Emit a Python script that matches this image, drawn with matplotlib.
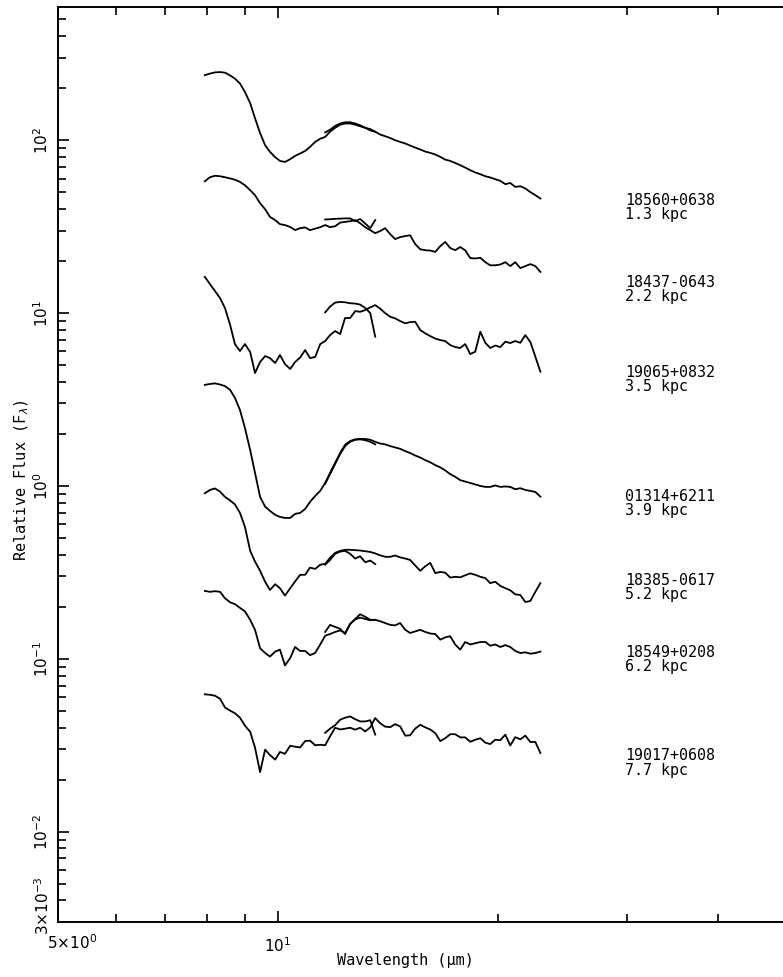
#!/usr/bin/env python3
"""IRAS LRS spectra of the sample, offset vertically and ordered by distance."""

import matplotlib

matplotlib.use("Agg")
import matplotlib.pyplot as plt
from matplotlib.ticker import FixedFormatter, FixedLocator, NullFormatter

# LRS channel wavelengths (um) for the merged spectra
wavelength = [
    7.94, 8.07, 8.20, 8.33, 8.46, 8.60, 8.73, 8.87, 9.01, 9.16, 9.30, 9.45,
    9.60, 9.75, 9.91, 10.06, 10.22, 10.39, 10.55, 10.72, 10.89, 11.06, 11.24, 11.42,
    11.60, 11.78, 11.97, 12.16, 12.35, 12.55, 12.75, 12.95, 13.16, 13.37, 13.58, 13.79,
    14.01, 14.24, 14.46, 14.69, 14.93, 15.16, 15.40, 15.65, 15.90, 16.15, 16.41, 16.67,
    16.93, 17.20, 17.47, 17.75, 18.03, 18.32, 18.61, 18.91, 19.21, 19.51, 19.82, 20.14,
    20.46, 20.78, 21.11, 21.45, 21.79, 22.14, 22.49, 22.85,
]
# blue/red band overlap region, plotted as a separate short trace
overlap_wavelength = [11.60, 11.78, 11.97, 12.16, 12.35, 12.55, 12.75, 12.95, 13.16, 13.37, 13.58]

source_names = ["18560+0638", "18437-0643", "19065+0832", "01314+6211",
                "18385-0617", "18549+0208", "19017+0608"]
distances_kpc = [1.3, 2.2, 3.5, 3.9, 5.2, 6.2, 7.7]

flux_18560 = [
    238, 243, 247, 248, 246, 237, 227, 213, 190, 164, 134, 110,
    93.6, 85.6, 79.8, 75.9, 74.9, 77.7, 81.2, 83.8, 86.7, 91.5, 97.8, 102,
    104.5, 112, 118, 123, 125, 125, 123, 120.5, 118, 114, 112, 108,
    105.5, 103, 100, 97.8, 95.7, 93.2, 90.7, 88.4, 86.0, 84.5, 82.7, 80.1,
    77.3, 75.9, 73.9, 71.7, 69.5, 67.1, 65.1, 63.6, 61.9, 60.9, 59.5, 58.2,
    55.7, 56.6, 53.7, 54.2, 52.6, 50.1, 48.1, 46.0,
]
flux_18437 = [
    57.9, 61.1, 62.3, 61.9, 61.1, 60.1, 59.1, 57.4, 54.9, 51.4, 48.1, 43.2,
    39.9, 36.0, 34.5, 32.7, 32.3, 31.5, 30.2, 31.0, 31.3, 30.2, 30.8, 31.4,
    32.3, 31.4, 31.8, 33.4, 33.7, 34.0, 34.5, 33.1, 31.4, 30.2, 29.0, 29.8,
    31.0, 28.6, 26.8, 27.5, 27.9, 28.2, 25.1, 23.4, 23.1, 23.0, 22.6, 24.4,
    25.8, 23.8, 23.1, 24.1, 23.1, 20.8, 20.7, 20.9, 19.7, 18.9, 18.9, 19.1,
    19.7, 18.7, 19.7, 18.2, 18.7, 19.2, 18.7, 17.3,
]
flux_19065 = [
    16.2, 14.7, 13.4, 12.2, 10.7, 8.52, 6.62, 6.03, 6.62, 5.95, 4.5, 5.21,
    5.64, 5.49, 5.14, 5.72, 5.07, 4.75, 5.21, 5.53, 6.11, 5.49, 5.57, 6.62,
    6.89, 7.46, 7.87, 7.56, 9.36, 9.36, 10.27, 10.17, 10.41, 10.79, 11.12, 10.62,
    10.0, 9.52, 9.32, 8.99, 8.72, 8.87, 8.91, 7.98, 7.63, 7.36, 7.12, 6.98,
    6.89, 6.53, 6.36, 6.28, 6.62, 5.79, 5.98, 7.80, 6.73, 6.28, 6.49, 6.36,
    6.83, 6.71, 6.89, 6.73, 7.46, 6.80, 5.59, 4.58,
]
flux_01314 = [
    3.84, 3.89, 3.92, 3.86, 3.78, 3.59, 3.23, 2.75, 2.16, 1.61, 1.19, 0.864,
    0.759, 0.717, 0.680, 0.662, 0.653, 0.653, 0.689, 0.698, 0.736, 0.808, 0.875, 0.936,
    1.04, 1.19, 1.36, 1.55, 1.73, 1.82, 1.86, 1.87, 1.87, 1.85, 1.80, 1.76,
    1.74, 1.70, 1.67, 1.64, 1.59, 1.55, 1.50, 1.46, 1.41, 1.37, 1.32, 1.28,
    1.23, 1.17, 1.13, 1.08, 1.06, 1.04, 1.02, 1.00, 0.987, 0.987, 1.007, 0.987,
    0.993, 0.987, 0.957, 0.970, 0.948, 0.936, 0.923, 0.867,
]
flux_18385 = [
    0.907, 0.948, 0.967, 0.927, 0.864, 0.824, 0.782, 0.698, 0.579, 0.421, 0.365, 0.323,
    0.279, 0.250, 0.270, 0.256, 0.232, 0.256, 0.280, 0.306, 0.306, 0.337, 0.331, 0.350,
    0.354, 0.384, 0.410, 0.421, 0.427, 0.427, 0.425, 0.423, 0.419, 0.415, 0.407, 0.397,
    0.389, 0.389, 0.396, 0.386, 0.380, 0.373, 0.347, 0.323, 0.343, 0.359, 0.313, 0.318,
    0.315, 0.295, 0.298, 0.296, 0.304, 0.312, 0.306, 0.298, 0.293, 0.274, 0.279, 0.264,
    0.256, 0.249, 0.236, 0.234, 0.213, 0.216, 0.244, 0.274,
]
flux_18549 = [
    0.247, 0.244, 0.246, 0.244, 0.224, 0.212, 0.207, 0.197, 0.188, 0.168, 0.147, 0.115,
    0.108, 0.103, 0.110, 0.113, 0.0915, 0.101, 0.117, 0.111, 0.111, 0.105, 0.108, 0.121,
    0.136, 0.139, 0.143, 0.146, 0.141, 0.159, 0.170, 0.181, 0.175, 0.168, 0.168, 0.165,
    0.161, 0.157, 0.156, 0.161, 0.147, 0.141, 0.144, 0.147, 0.143, 0.140, 0.139, 0.129,
    0.133, 0.135, 0.121, 0.113, 0.125, 0.121, 0.123, 0.125, 0.125, 0.119, 0.121, 0.117,
    0.120, 0.117, 0.111, 0.108, 0.109, 0.107, 0.108, 0.110,
]
flux_19017 = [
    0.0623, 0.0619, 0.0611, 0.0587, 0.0523, 0.0501, 0.0484, 0.0456, 0.0410, 0.0378, 0.0306, 0.0221,
    0.0298, 0.0277, 0.0261, 0.0289, 0.0282, 0.0314, 0.0310, 0.0307, 0.0334, 0.0336, 0.0316, 0.0318,
    0.0316, 0.0356, 0.0399, 0.0390, 0.0394, 0.0399, 0.0389, 0.0399, 0.0380, 0.0401, 0.0454, 0.0424,
    0.0405, 0.0402, 0.0419, 0.0406, 0.0359, 0.0361, 0.0394, 0.0415, 0.0401, 0.0390, 0.0371, 0.0334,
    0.0347, 0.0366, 0.0366, 0.0351, 0.0351, 0.0331, 0.0340, 0.0347, 0.0327, 0.0321, 0.0340, 0.0338,
    0.0364, 0.0315, 0.0352, 0.0342, 0.0359, 0.0330, 0.0330, 0.0285,
]

overlap_18560 = [111, 115, 121, 125, 127, 127, 125, 122, 118, 116, 112]
overlap_18437 = [34.8, 34.9, 35.1, 35.2, 35.3, 35.3, 34.0, 35.0, 33.0, 31.0, 34.5]
overlap_19065 = [10.1, 10.9, 11.5, 11.6, 11.55, 11.4, 11.35, 11.2, 10.7, 10.0, 7.3]
overlap_01314 = [1.03, 1.17, 1.34, 1.53, 1.70, 1.80, 1.85, 1.86, 1.84, 1.80, 1.74]
overlap_18385 = [0.350, 0.373, 0.405, 0.417, 0.421, 0.405, 0.380, 0.392, 0.362, 0.370, 0.353]
overlap_18549 = [0.143, 0.157, 0.153, 0.149, 0.139, 0.159, 0.169, 0.173, 0.170, 0.167, 0.168]
overlap_19017 = [0.0373, 0.0394, 0.0413, 0.0444, 0.0456, 0.0464, 0.0447, 0.0434, 0.0434, 0.0441, 0.0364]

spectra = [flux_18560, flux_18437, flux_19065, flux_01314, flux_18385, flux_18549, flux_19017]
overlaps = [overlap_18560, overlap_18437, overlap_19065, overlap_01314,
            overlap_18385, overlap_18549, overlap_19017]

# where each name/distance block sits (wavelength, flux at block centre)
label_wavelength = 29.8
label_flux = [40.7, 13.7, 4.13, 0.792, 0.259, 0.0993, 0.0249]


def main() -> None:
    plt.rcParams["font.family"] = "DejaVu Sans Mono"
    plt.rcParams["mathtext.fontset"] = "dejavusans"

    W, H = 783, 977
    fig = plt.figure(figsize=(W / 100, H / 100), dpi=100)
    # right edge (50 um) falls just outside the saved frame
    ax = fig.add_axes([58 / W, 1 - 922 / H, (789 - 58) / W, (922 - 7) / H])

    for flux, ovl in zip(spectra, overlaps):
        ax.plot(wavelength, flux, color="black", lw=1.3)
        ax.plot(overlap_wavelength, ovl, color="black", lw=1.3)

    for name, dist, yf in zip(source_names, distances_kpc, label_flux):
        ax.text(label_wavelength, yf, f"{name}\n{dist:.1f} kpc", fontsize=10.8,
                ha="left", va="center", linespacing=0.95)

    ax.set_xscale("log")
    ax.set_yscale("log")
    ax.set_xlim(5, 50)
    ax.set_ylim(3e-3, 590)

    ax.xaxis.set_major_locator(FixedLocator([5, 10]))
    ax.xaxis.set_major_formatter(FixedFormatter(["", r"$10^{1}$"]))
    ax.xaxis.set_minor_locator(FixedLocator([6, 7, 8, 9, 20, 30, 40]))
    ax.xaxis.set_minor_formatter(NullFormatter())

    ymajor = [1e-2, 1e-1, 1e0, 1e1, 1e2]
    ax.yaxis.set_major_locator(FixedLocator(ymajor))
    ax.yaxis.set_major_formatter(FixedFormatter(
        [r"$10^{-2}$", r"$10^{-1}$", r"$10^{0}$", r"$10^{1}$", r"$10^{2}$"]))
    yminor = [k * 10.0 ** e for e in range(-3, 3) for k in range(2, 10)]
    yminor = [v for v in yminor if 3e-3 < v < 590]
    ax.yaxis.set_minor_locator(FixedLocator(yminor))
    ax.yaxis.set_minor_formatter(NullFormatter())

    ax.tick_params(which="both", direction="in", top=True, right=False, width=1.2)
    ax.tick_params(which="major", length=8)
    ax.tick_params(which="minor", length=6)
    ax.tick_params(axis="x", which="major", labelsize=11, pad=10)
    ax.tick_params(axis="y", which="major", labelsize=11, pad=5, labelrotation=90)
    for lab in ax.get_yticklabels():
        lab.set_va("center")
    for sp in ax.spines.values():
        sp.set_linewidth(1.4)

    # end labels set by hand so they clear the corner
    fig.text(72 / W, 1 - 943 / H, r"$5{\times}10^{0}$", fontsize=11, ha="center", va="center")
    fig.text(43 / W, 1 - 906 / H, r"$3{\times}10^{-3}$", fontsize=11, ha="center", va="center",
             rotation=90)

    fig.text(22 / W, 1 - 480 / H, r"Relative Flux (F$_\lambda$)", fontsize=11,
             rotation=90, ha="center", va="center")
    fig.text(405 / W, 1 - 960 / H, "Wavelength (μm)", fontsize=11, ha="center", va="center")

    fig.savefig("out.png", dpi=100)
    plt.close(fig)


if __name__ == "__main__":
    main()
